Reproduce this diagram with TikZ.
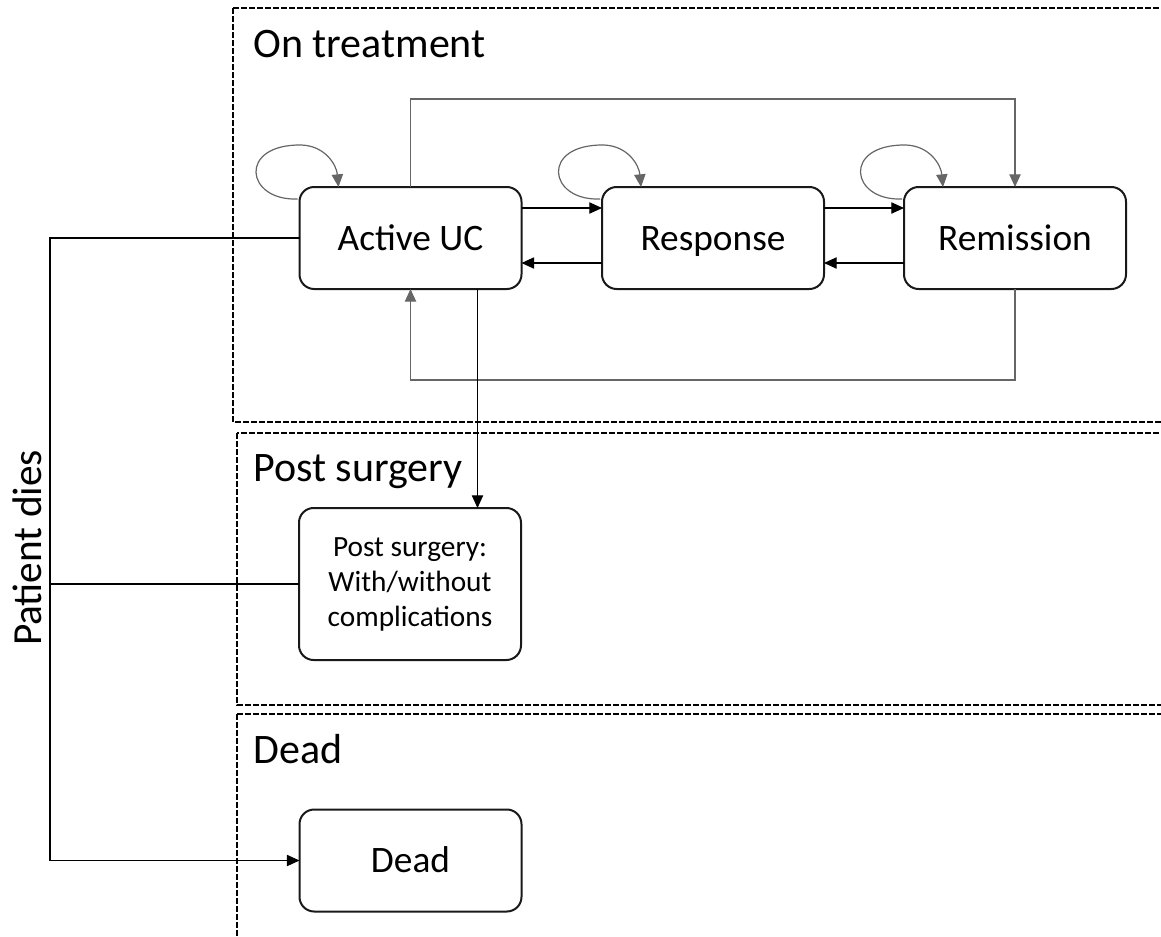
\documentclass[tikz,border=0pt]{standalone}
\usepackage{fontspec}
\setmainfont{Carlito}
\usetikzlibrary{arrows.meta,calc}
\begin{document}
\begin{tikzpicture}[x=0.75pt,y=-0.75pt,
  state/.style={draw=black!90,line width=1.5pt,rounded corners=11pt,
    minimum width=166.5pt,minimum height=76.5pt,inner sep=0pt,outer sep=0pt,
    align=center,font=\fontsize{28}{32}\selectfont},
  onestate/.style={state,text height=18pt,text depth=0pt},
  region/.style={draw=black,line width=1.35pt,dash pattern=on 4.2pt off 1.8pt},
  title/.style={anchor=base west,inner sep=0pt,font=\fontsize{31.5}{36}\selectfont},
  link/.style={line width=0.8pt,draw=black},
  glink/.style={line width=0.9pt,draw=black!60},
  arr/.style={-{Triangle[length=9.5pt,width=8.5pt]}},
]
\useasboundingbox (0,0) rectangle (1161,936);
\clip (0,0) rectangle (1161,936);

% model regions
\draw[region] (233,8) rectangle (1190,422);
\draw[region] (237,433) rectangle (1190,705);
\draw[region] (237,714) rectangle (1190,960);
\node[title] (tOn) at (253,57) {On treatment};
\node[title] (tPs) at (253,481) {Post surgery};
\node[title] (tDe) at (253,763) {Dead};

% health states
\node[onestate] (au) at (410.5,238) {Active UC};
\node[onestate] (rs) at (713,238) {Response};
\node[onestate] (rm) at (1015,238) {Remission};
\node[state,minimum height=114pt,font=\fontsize{22}{26.25}\selectfont] (ps) at (410,584) {Post surgery:\\With/without\\complications};
\node[onestate] (dd) at (410.5,860.5) {Dead};

% transitions between on-treatment states
\draw[link,arr] ($(au.east)+(0,-30)$) -- ($(rs.west)+(0,-30)$);
\draw[link,arr] ($(rs.west)+(0,25)$) -- ($(au.east)+(0,25)$);
\draw[link,arr] ($(rs.east)+(0,-30)$) -- ($(rm.west)+(0,-30)$);
\draw[link,arr] ($(rm.west)+(0,25)$) -- ($(rs.east)+(0,25)$);
\draw[glink,arr] (au.north) -- ++(0,-88) -| (rm.north);
\draw[glink,arr] (rm.south) -- ++(0,91) -| (au.south);

% staying in the same state
\foreach \s in {au,rs,rm}{
  \draw[glink,arr] ($(\s.north west)+(-2,12)$)
    .. controls ($(\s.north west)+(-54,14)$) and ($(\s.north west)+(-62,-43)$) .. ($(\s.north west)+(2,-42)$)
    .. controls ($(\s.north west)+(26,-41)$) and ($(\s.north west)+(37,-22)$) .. ($(\s.north west)+(39,0)$);
}

% surgery
\coordinate (sx) at ($(au.south)+(67,0)$);
\draw[link,arr] (sx) -- (sx |- ps.north);

% death from any state
\coordinate (px) at (50,0);
\draw[link,arr] (au.west) -- (au.west -| px) -- (px |- dd.west) -- (dd.west);
\draw[link] (ps.west) -- (ps.west -| px);
\node[rotate=90,anchor=base,inner sep=0pt,font=\fontsize{31}{36}\selectfont] (pdl) at (41,548) {Patient dies};
\end{tikzpicture}
\end{document}
